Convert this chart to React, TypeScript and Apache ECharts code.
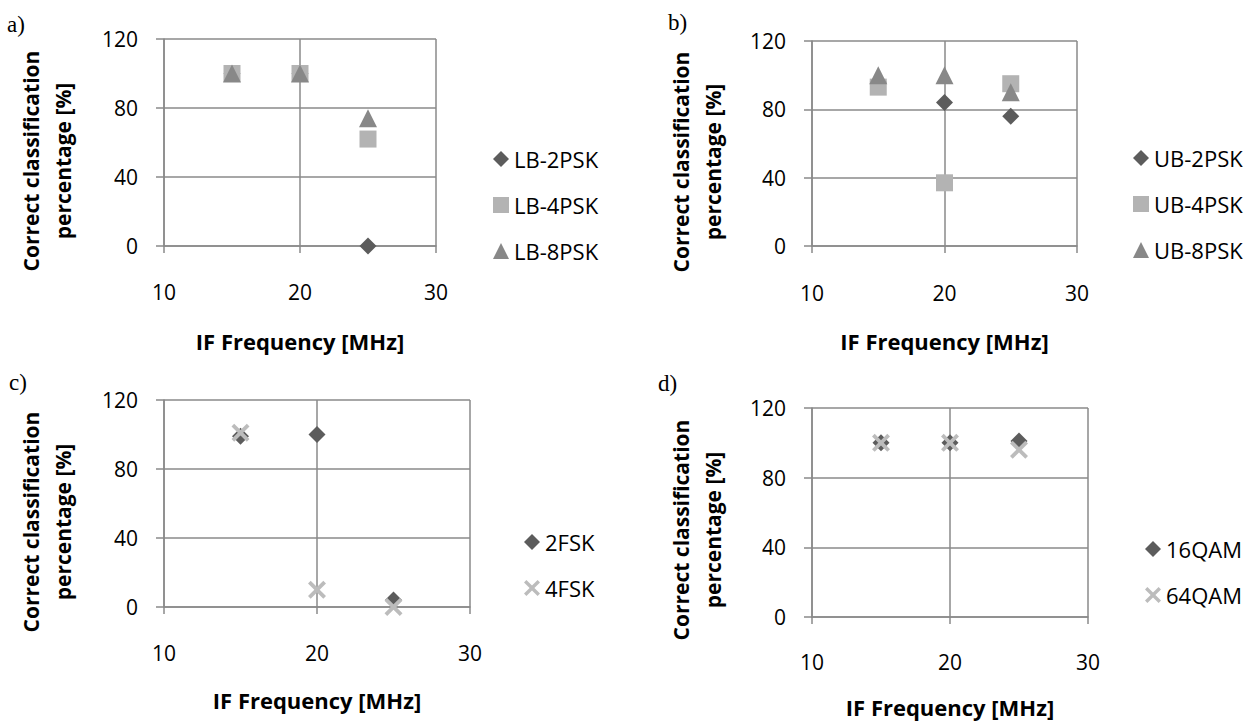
import React, { useEffect, useRef } from "react";
import * as echarts from "echarts";

// ---- data ----
const freqs = [15, 20, 25];
const xTicks = { min: 10, max: 30, interval: 10 };
const yTicks = { min: 0, max: 120, interval: 40 };

const lb2psk = [100, 100, 0];
const lb4psk = [100, 100, 62];
const lb8psk = [100, 100, 74];

const ub2psk = [96, 84, 76];
const ub4psk = [93, 37, 95];
const ub8psk = [100, 100, 90];

const fsk2 = [99, 100, 4];
const fsk4 = [101, 10, 0];

const qam16 = [100, 100, 101];
const qam64 = [100, 100, 96];

const panelLabels = ["a)", "b)", "c)", "d)"];
const xTitle = "IF Frequency [MHz]";
const yTitle = "Correct classification\npercentage [%]";

// ---- styles ----
const FONT = "Open Sans";
const GRID_COLOR = "#8a8a8a";
const C_DIAMOND = "#5c5c5c";
const C_SQUARE = "#b3b3b3";
const C_TRIANGLE = "#888888";
const C_CROSS = "#bcbcbc";
const a = 1.5;
const CROSS = `path://M${a},0 L5,${5 - a} L${10 - a},0 L10,${a} L${5 + a},5 L10,${10 - a} L${10 - a},10 L5,${5 + a} L${a},10 L0,${10 - a} L${5 - a},5 L0,${a} Z`;

const pairs = (ys: number[]) => ys.map((y, i) => [freqs[i], y]);

const panels = [
  { grid: { left: 164, top: 39, width: 272, height: 207 }, xMargin: 35, nameGap: 84, legend: { left: 488, top: 143 }, ytitle: [47, 161], label: [7, 24] },
  { grid: { left: 812, top: 41, width: 265, height: 205 }, xMargin: 36, nameGap: 84, legend: { left: 1128, top: 142 }, ytitle: [697, 162], label: [668, 22] },
  { grid: { left: 164, top: 400, width: 306, height: 207 }, xMargin: 35, nameGap: 82, legend: { left: 519, top: 526 }, ytitle: [47, 522], label: [9, 382] },
  { grid: { left: 812, top: 408, width: 276, height: 209 }, xMargin: 34, nameGap: 79, legend: { left: 1140, top: 533 }, ytitle: [697, 530], label: [658, 383] },
];

const seriesDefs = [
  { name: "LB-2PSK", data: lb2psk, panel: 0, symbol: "diamond", size: 17, color: C_DIAMOND },
  { name: "LB-4PSK", data: lb4psk, panel: 0, symbol: "rect", size: 17, color: C_SQUARE },
  { name: "LB-8PSK", data: lb8psk, panel: 0, symbol: "triangle", size: 18, color: C_TRIANGLE },
  { name: "UB-2PSK", data: ub2psk, panel: 1, symbol: "diamond", size: 17, color: C_DIAMOND },
  { name: "UB-4PSK", data: ub4psk, panel: 1, symbol: "rect", size: 17, color: C_SQUARE },
  { name: "UB-8PSK", data: ub8psk, panel: 1, symbol: "triangle", size: 18, color: C_TRIANGLE },
  { name: "2FSK", data: fsk2, panel: 2, symbol: "diamond", size: 17, color: C_DIAMOND },
  { name: "4FSK", data: fsk4, panel: 2, symbol: CROSS, size: 18, color: C_CROSS },
  { name: "16QAM", data: qam16, panel: 3, symbol: "diamond", size: 17, color: C_DIAMOND },
  { name: "64QAM", data: qam64, panel: 3, symbol: CROSS, size: 18, color: C_CROSS },
];

export default function App() {
  const ref = useRef<HTMLDivElement>(null);
  useEffect(() => {
    if (!ref.current) return;
    const chart = echarts.init(ref.current, undefined, { renderer: "svg" });
    const lineStyle = { color: GRID_COLOR, width: 1.5 };
    const option: any = {
      animation: false,
      backgroundColor: "#ffffff",
      grid: panels.map((p) => ({ ...p.grid, containLabel: false })),
      xAxis: panels.map((p, i) => ({
        gridIndex: i,
        type: "value",
        ...xTicks,
        axisLine: { show: true, onZero: false, lineStyle },
        axisTick: { show: true, length: 7, lineStyle },
        axisLabel: { margin: p.xMargin, fontSize: 21, color: "#000", fontFamily: FONT },
        splitLine: { show: true, lineStyle },
        name: xTitle,
        nameLocation: "middle",
        nameGap: p.nameGap,
        nameTextStyle: { fontSize: 22, lineHeight: 22, fontWeight: "bold", color: "#000", fontFamily: FONT },
      })),
      yAxis: panels.map((p, i) => ({
        gridIndex: i,
        type: "value",
        ...yTicks,
        axisLine: { show: true, onZero: false, lineStyle },
        axisTick: { show: true, length: 8, lineStyle },
        axisLabel: { margin: 26, fontSize: 21, color: "#000", fontFamily: FONT },
        splitLine: { show: true, lineStyle },
      })),
      legend: panels.map((p, i) => ({
        orient: "vertical",
        left: p.legend.left,
        top: p.legend.top,
        itemWidth: 16,
        itemHeight: 16,
        itemGap: 24,
        selectedMode: false,
        data: seriesDefs.filter((s) => s.panel === i).map((s) => s.name),
        textStyle: { fontSize: 22, color: "#000", fontFamily: FONT },
      })),
      series: seriesDefs.map((s) => ({
        type: "scatter",
        name: s.name,
        xAxisIndex: s.panel,
        yAxisIndex: s.panel,
        symbol: s.symbol,
        symbolSize: s.size,
        itemStyle: { color: s.color, opacity: 1 },
        data: pairs(s.data),
      })),
      graphic: [
        ...panels.map((p, i) => ({
          type: "text",
          x: p.label[0],
          y: p.label[1],
          style: {
            text: panelLabels[i],
            font: "23px 'Liberation Serif'",
            fill: "#000",
            textAlign: "left",
            textVerticalAlign: "middle",
          },
        })),
        ...panels.map((p) => ({
          type: "text",
          x: p.ytitle[0],
          y: p.ytitle[1],
          rotation: Math.PI / 2,
          style: {
            text: yTitle,
            font: `bold 21px '${FONT}'`,
            lineHeight: 32,
            fill: "#000",
            textAlign: "center",
            textVerticalAlign: "middle",
          },
        })),
      ],
    };
    chart.setOption(option);
    return () => chart.dispose();
  }, []);
  return (
    <div
      ref={ref}
      style={{ position: "fixed", left: 0, top: 0, width: 1257, height: 722, background: "#fff" }}
    />
  );
}
